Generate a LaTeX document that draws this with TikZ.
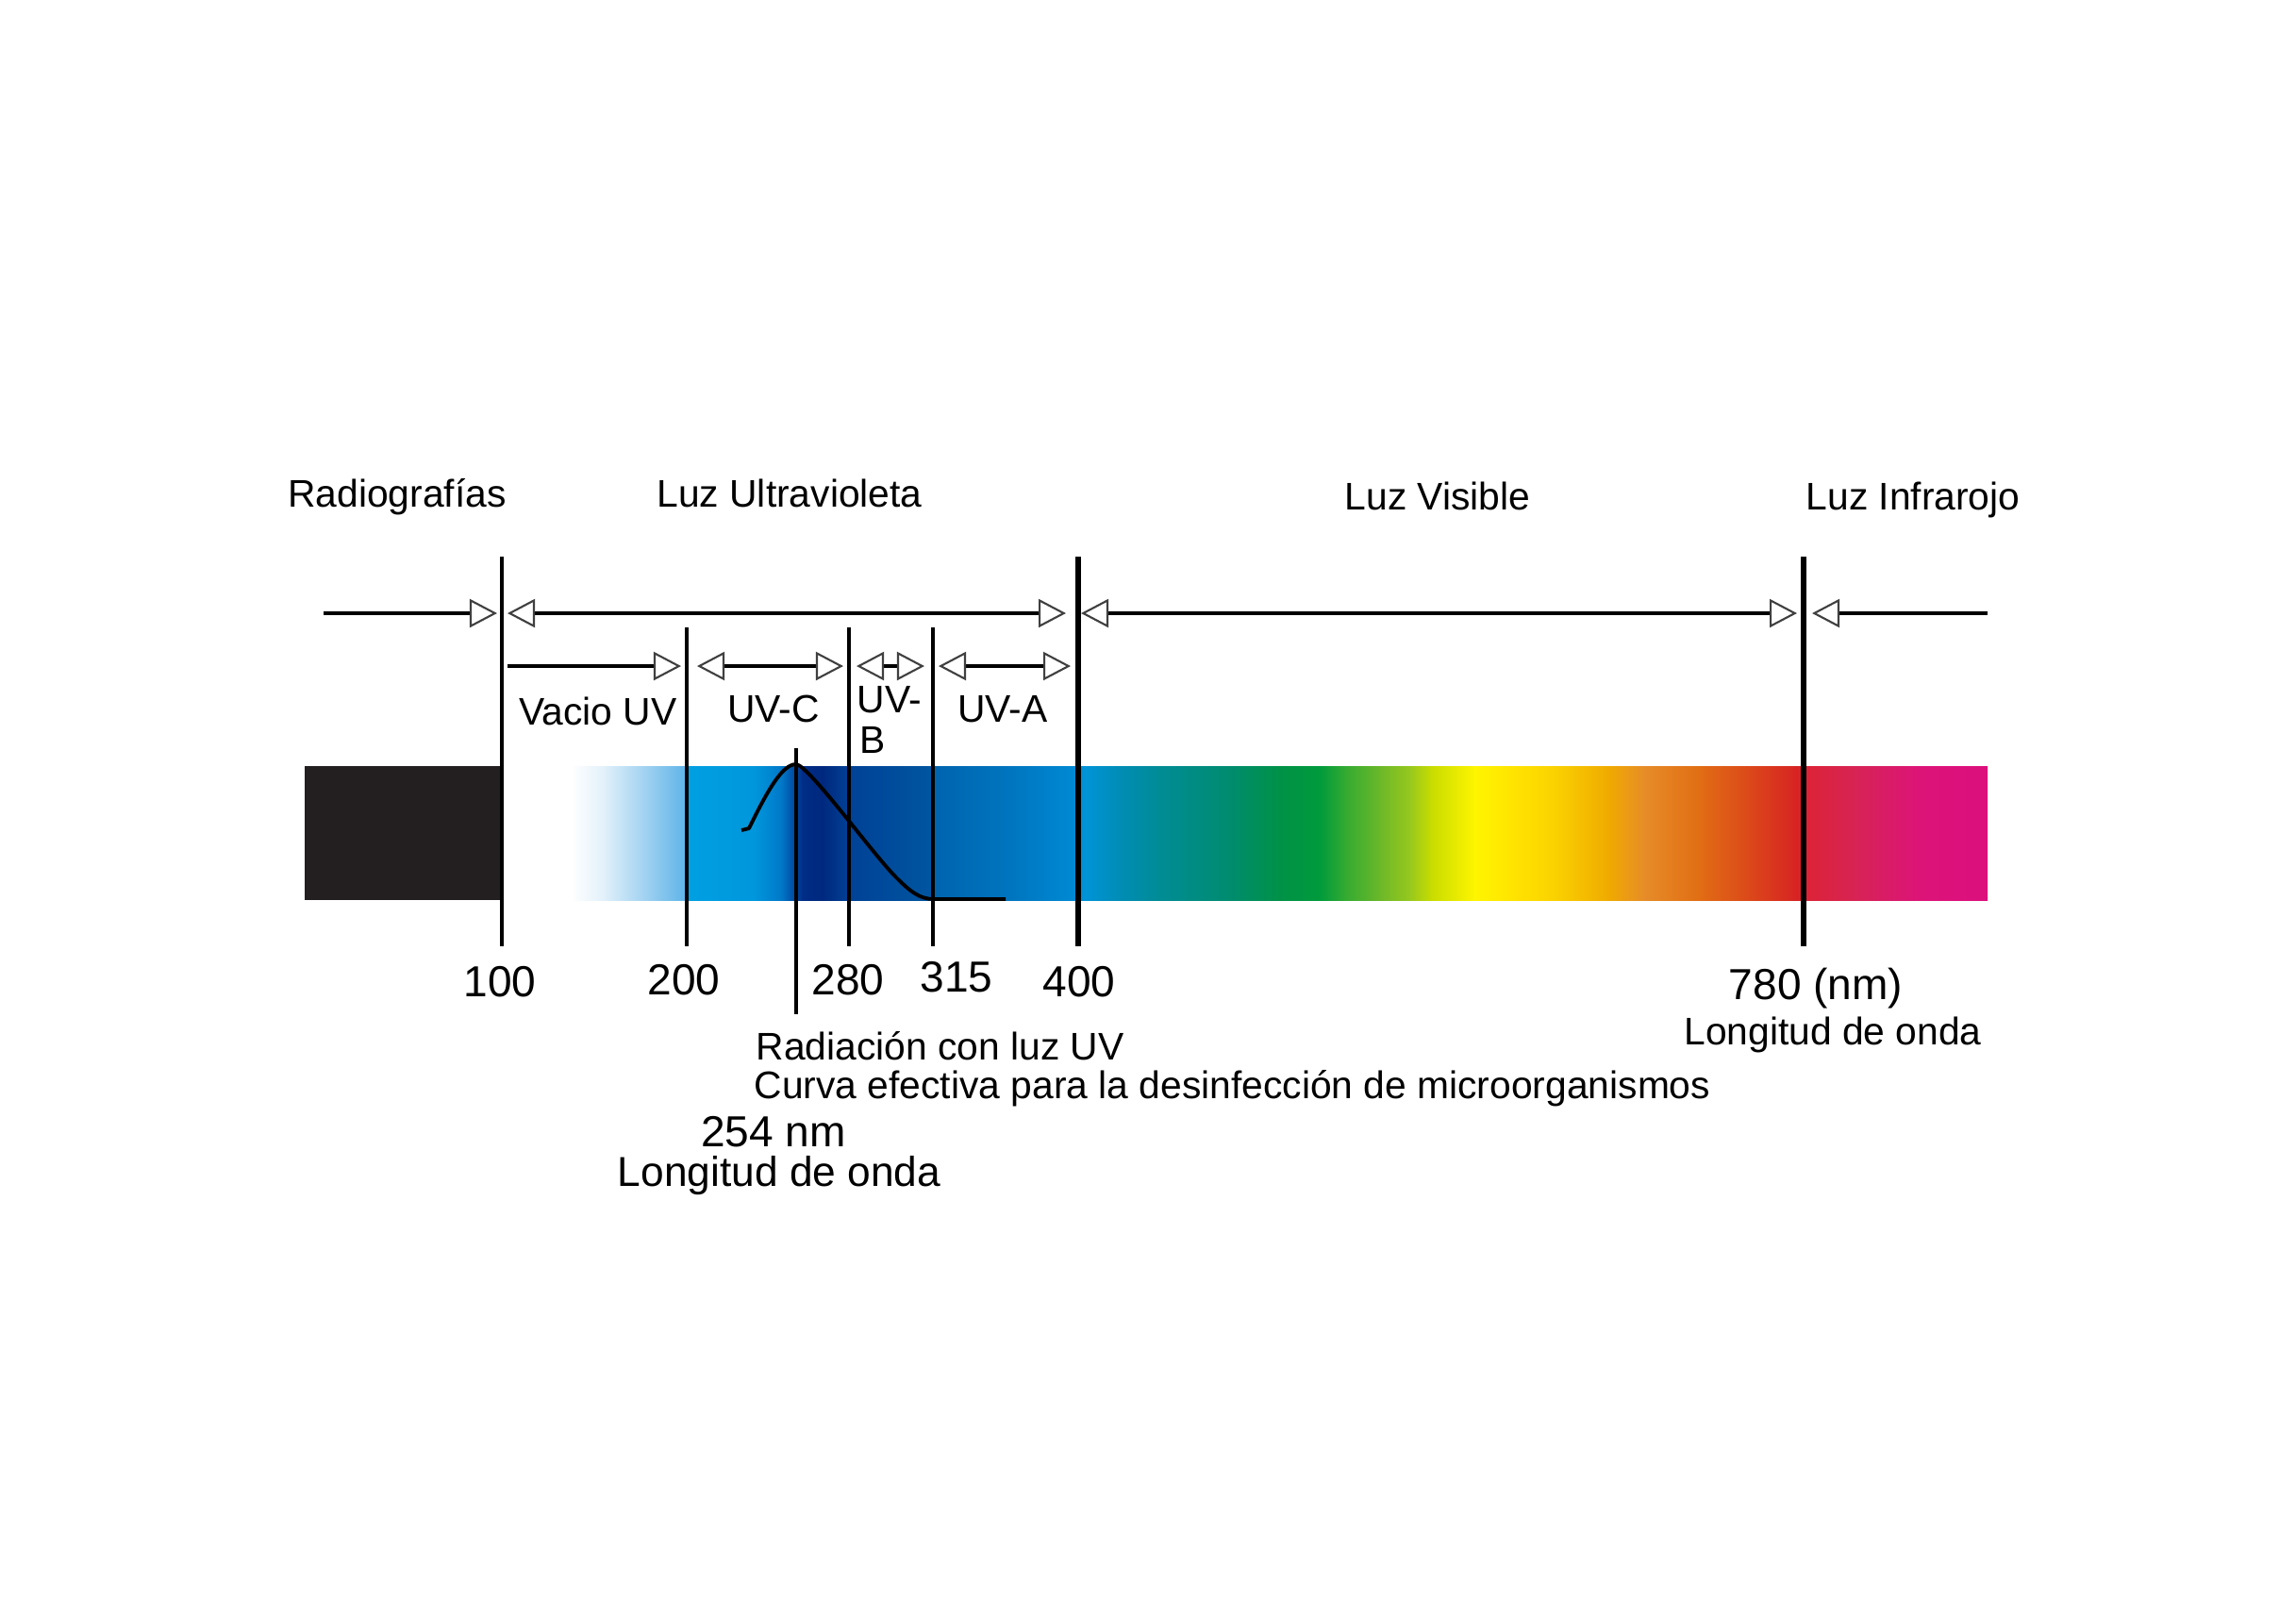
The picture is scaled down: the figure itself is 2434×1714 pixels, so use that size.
\documentclass[tikz,border=0pt]{standalone}
\usepackage{fontspec}
\setmainfont{Liberation Sans}
\usetikzlibrary{arrows.meta}
\definecolor{c605}{RGB}{255,255,255}
\definecolor{c640}{RGB}{225,240,250}
\definecolor{c690}{RGB}{150,205,240}
\definecolor{c726}{RGB}{95,180,232}
\definecolor{c729}{RGB}{0,160,226}
\definecolor{c800}{RGB}{0,150,220}
\definecolor{c828}{RGB}{0,120,200}
\definecolor{c850}{RGB}{0,45,135}
\definecolor{c872}{RGB}{0,40,125}
\definecolor{c898}{RGB}{0,65,150}
\definecolor{c985}{RGB}{0,85,160}
\definecolor{c990}{RGB}{0,100,175}
\definecolor{c1075}{RGB}{0,118,192}
\definecolor{c1140}{RGB}{0,138,212}
\definecolor{c1150}{RGB}{0,148,215}
\definecolor{c1188}{RGB}{0,140,180}
\definecolor{c1227}{RGB}{0,140,150}
\definecolor{c1303}{RGB}{0,140,110}
\definecolor{c1357}{RGB}{0,145,70}
\definecolor{c1399}{RGB}{0,155,60}
\definecolor{c1425}{RGB}{50,170,50}
\definecolor{c1464}{RGB}{110,185,40}
\definecolor{c1494}{RGB}{150,200,30}
\definecolor{c1517}{RGB}{200,220,0}
\definecolor{c1563}{RGB}{255,245,0}
\definecolor{c1609}{RGB}{255,225,0}
\definecolor{c1647}{RGB}{250,210,0}
\definecolor{c1705}{RGB}{240,170,0}
\definecolor{c1743}{RGB}{230,140,40}
\definecolor{c1800}{RGB}{225,110,20}
\definecolor{c1850}{RGB}{220,75,25}
\definecolor{c1905}{RGB}{215,35,35}
\definecolor{c1915}{RGB}{220,35,55}
\definecolor{c1967}{RGB}{215,35,85}
\definecolor{c2033}{RGB}{220,20,120}
\definecolor{c2107}{RGB}{220,15,125}
\definecolor{xray}{RGB}{35,31,32}
\begin{document}
\begin{tikzpicture}[x=0.01cm,y=-0.01cm,
  txt/.style={inner sep=0pt, anchor=base, font=\fontsize{11.6}{14}\selectfont},
  num/.style={inner sep=0pt, anchor=base, font=\fontsize{13.1}{15}\selectfont},
  thinv/.style={line width=1.14pt},
  thickv/.style={line width=1.7pt},
  rowline/.style={line width=1.3pt,
    >={Triangle[fill=white,color=black!75,length=2.9mm,width=3mm,line width=0.6pt]}},
  curveline/.style={line width=1.1pt, line join=round},
]
\useasboundingbox (0,0) rectangle (2434,1714);
\fill[white] (0,0) rectangle (2434,1714);

% spectrum
\foreach \a/\b in {605/640,640/690,690/726,726/729,729/800,800/828,828/850,850/872,872/898,898/985,985/990,990/1075,1075/1140,1140/1150,1150/1188,1188/1227,1227/1303,1303/1357,1357/1399,1399/1425,1425/1464,1464/1494,1494/1517,1517/1563,1563/1609,1609/1647,1647/1705,1705/1743,1743/1800,1800/1850,1850/1905,1905/1915,1915/1967,1967/2033}
  {\fill[left color=c\a, right color=c\b] (\a,812) rectangle (\b+1,954);}
\fill[left color=c2033, right color=c2107] (2033,812) rectangle (2107,954);

% x-ray block
\fill[xray] (323,812) rectangle (532,954);

% effectiveness curve
\draw[curveline] (786,880) -- (794,878) .. controls (815,835) and (830,810) .. (844,810)
  .. controls (858,812) and (925,905) .. (950,930)
  .. controls (965,945) and (975,953) .. (990,953) -- (1066,953);

% vertical boundary lines
\coordinate (v100t) at (532,590);  \coordinate (v100b) at (532,1003);
\coordinate (v200t) at (728,665);  \coordinate (v200b) at (728,1003);
\coordinate (v254t) at (844,793);  \coordinate (v254b) at (844,1075);
\coordinate (v280t) at (900,665);  \coordinate (v280b) at (900,1003);
\coordinate (v315t) at (989,665);  \coordinate (v315b) at (989,1003);
\coordinate (v400t) at (1143,590); \coordinate (v400b) at (1143,1003);
\coordinate (v780t) at (1912,590); \coordinate (v780b) at (1912,1003);
\draw[thinv] (v100t) -- (v100b);
\draw[thinv] (v200t) -- (v200b);
\draw[line width=1.4pt] (v254t) -- (v254b);
\draw[thinv] (v280t) -- (v280b);
\draw[thinv] (v315t) -- (v315b);
\draw[thickv] (v400t) -- (v400b);
\draw[thickv] (v780t) -- (v780b);

% row 1 arrows
\coordinate (r1a) at (343,650);  \coordinate (r1b) at (527,650);
\coordinate (r1c) at (538,650);  \coordinate (r1d) at (1130,650);
\coordinate (r1e) at (1146,650); \coordinate (r1f) at (1905,650);
\coordinate (r1g) at (1921,650); \coordinate (r1h) at (2107,650);
\draw[rowline,->] (r1a) -- (r1b);
\draw[rowline,<->] (r1c) -- (r1d);
\draw[rowline,<->] (r1e) -- (r1f);
\draw[rowline,<-] (r1g) -- (r1h);

% row 2 arrows
\coordinate (r2a) at (538,706);  \coordinate (r2b) at (722,706);
\coordinate (r2c) at (739,706);  \coordinate (r2d) at (894,706);
\coordinate (r2e) at (908,706);  \coordinate (r2f) at (980,706);
\coordinate (r2g) at (995,706);  \coordinate (r2h) at (1135,706);
\draw[rowline,->] (r2a) -- (r2b);
\draw[rowline,<->] (r2c) -- (r2d);
\draw[rowline,<->] (r2e) -- (r2f);
\draw[rowline,<->] (r2g) -- (r2h);

% region titles
\node[txt] (radio) at (421,537) {Radiografías};
\node[txt] (uvtitle) at (837,537) {Luz Ultravioleta};
\node[txt] (vis) at (1524,540) {Luz Visible};
\node[txt] (ir) at (2028,540) {Luz Infrarojo};

% band labels
\node[txt] (vacio) at (634,768) {Vacio UV};
\node[txt] (uvc) at (820,765) {UV-C};
\node[txt,anchor=base west] (uvb1) at (908,755) {UV-};
\node[txt,anchor=base west] (uvb2) at (911,798) {B};
\node[txt] (uva) at (1063,765) {UV-A};

% wavelengths
\node[num] (n100) at (530,1056) {100};
\node[num] (n200) at (725,1054) {200};
\node[num] (n280) at (899,1054) {280};
\node[num] (n315) at (1014,1051) {315};
\node[num] (n400) at (1144,1056) {400};
\node[num] (n780) at (1925,1059) {780 (nm)};
\node[txt] (lo1) at (1943,1107) {Longitud de onda};

% annotations
\node[txt,anchor=base west] (rad) at (801,1123) {Radiación con luz UV};
\node[txt,anchor=base west] (curva) at (799,1164) {Curva efectiva para la desinfección de microorganismos};
\node[num] (n254) at (820,1215) {254 nm};
\node[txt,font=\fontsize{12.6}{15}\selectfont] (lo2) at (826,1257) {Longitud de onda};
\end{tikzpicture}
\end{document}
